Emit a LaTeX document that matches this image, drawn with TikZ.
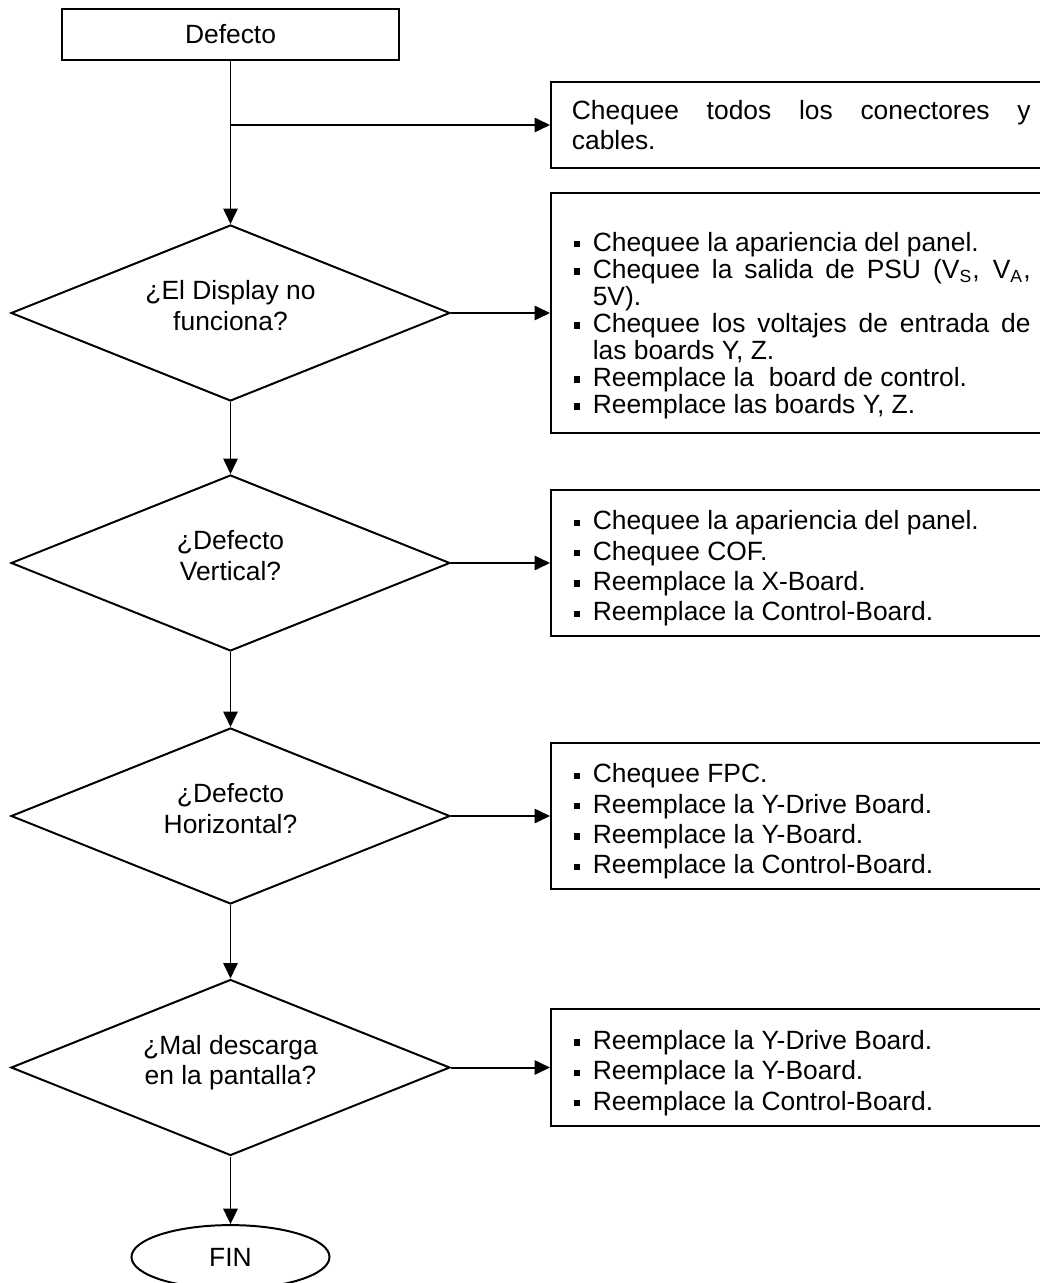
\documentclass[tikz,border=0pt]{standalone}
\usepackage{fontspec}
\setmainfont{Liberation Sans}
\usetikzlibrary{shapes.geometric, arrows.meta, positioning}
\newcommand{\chk}{\par\noindent\llap{\rule[1.8pt]{2.9pt}{2.9pt}\hspace{5.8pt}}}
\newcommand{\boxtext}[1]{\leftskip=#1\rightskip=6pt\spaceskip=\fontdimen2\font plus\fontdimen3\font\relax
  \hyphenpenalty=10000\tolerance=10000\noindent}
\newcommand{\lift}{\rule[-7pt]{0pt}{0pt}}
\tikzset{
  startbox/.style={draw, line width=0.9pt, minimum width=153pt, minimum height=23pt,
    inner sep=0pt, font=\fontsize{12}{13.8}\selectfont},
  decision/.style={diamond, draw, line width=0.9pt, aspect=2.5, inner sep=0pt,
    minimum width=199.5pt, minimum height=80pt, align=center, font=\fontsize{12}{13.8}\selectfont},
  actionbox/.style={draw, line width=0.9pt, anchor=west, text width=224pt, inner xsep=0pt,
    inner ysep=0pt, font=\fontsize{12}{13.8}\selectfont},
  endoval/.style={ellipse, draw, line width=0.9pt, minimum width=90pt, minimum height=29pt,
    inner sep=0pt, font=\fontsize{12}{13.8}\selectfont},
  flowarrow/.style={-{Triangle[length=7pt, width=6.5pt]}, line width=0.9pt},
}
\begin{document}
\begin{tikzpicture}[x=0.4545pt, y=-0.4545pt]
  \useasboundingbox (0,0) rectangle (1039,1283);

  % Main column
  \node[startbox] (defectbox) at (230.5,34.5) {Defecto};
  \node[decision] (qdisplay) at (230.5,313) {¿El Display no\\funciona?\lift};
  \node[decision] (qvertical) at (230.5,563) {¿Defecto\\Vertical?\lift};
  \node[decision] (qhorizontal) at (230.5,816) {¿Defecto\\Horizontal?\lift};
  \node[decision] (qdischarge) at (230.5,1067.5) {¿Mal descarga\\en la pantalla?\lift};
  \node[endoval] (fin) at (230.5,1257) {FIN};

  % Action boxes
  \node[actionbox, minimum height=39pt] (boxcables) at (550,125)
    {\boxtext{9.5pt}Chequee todos los conectores y cables.\par};
  \node[actionbox, minimum height=109pt, font=\fontsize{12}{12.3}\selectfont] (boxdisplay) at (550,313)
    {\vspace*{8pt}\boxtext{19pt}%
     \chk Chequee la apariencia del panel.
     \chk Chequee la salida de PSU (V\textsubscript{S}, V\textsubscript{A}, 5V).
     \chk Chequee los voltajes de entrada de las boards Y, Z.
     \chk Reemplace la \ board de control.
     \chk Reemplace las boards Y, Z.\par};
  \node[actionbox, minimum height=66pt] (boxvertical) at (550,563)
    {\boxtext{19pt}%
     \chk Chequee la apariencia del panel.
     \chk Chequee COF.
     \chk Reemplace la X-Board.
     \chk Reemplace la Control-Board.\par};
  \node[actionbox, minimum height=66.4pt] (boxhorizontal) at (550,816)
    {\boxtext{19pt}%
     \chk Chequee FPC.
     \chk Reemplace la Y-Drive Board.
     \chk Reemplace la Y-Board.
     \chk Reemplace la Control-Board.\par};
  \node[actionbox, minimum height=53.6pt] (boxdischarge) at (550,1067.5)
    {\boxtext{19pt}%
     \chk Reemplace la Y-Drive Board.
     \chk Reemplace la Y-Board.
     \chk Reemplace la Control-Board.\par};

  % Connectors
  \draw[flowarrow] (defectbox.south) -- (qdisplay.north);
  \draw[flowarrow] (defectbox.south |- boxcables.west) -- (boxcables.west);
  \draw[flowarrow] (qdisplay.east) -- (boxdisplay.west);
  \draw[flowarrow] (qdisplay.south) -- (qvertical.north);
  \draw[flowarrow] (qvertical.east) -- (boxvertical.west);
  \draw[flowarrow] (qvertical.south) -- (qhorizontal.north);
  \draw[flowarrow] (qhorizontal.east) -- (boxhorizontal.west);
  \draw[flowarrow] (qhorizontal.south) -- (qdischarge.north);
  \draw[flowarrow] (qdischarge.east) -- (boxdischarge.west);
  \draw[flowarrow] (qdischarge.south) -- (fin.north);
\end{tikzpicture}
\end{document}
